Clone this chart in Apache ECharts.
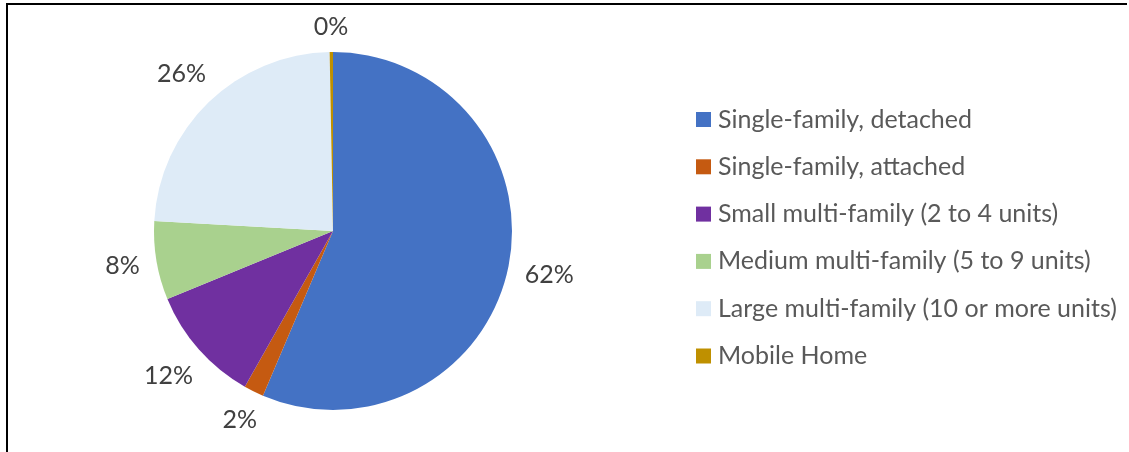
<!DOCTYPE html>
<html>
<head>
<meta charset="utf-8">
<script src="https://cdn.jsdelivr.net/npm/echarts@6/dist/echarts.min.js"></script>
<style>
  html, body { margin: 0; padding: 0; background: #fff; }
  #chart { width: 1129px; height: 452px; }
  /* cropped frame of the original figure */
  .frame {
    position: absolute;
    left: 6px;
    top: 3px;
    width: 1119px;
    height: 460px;
    border-top: 2px solid #000;
    border-left: 2px solid #000;
    pointer-events: none;
  }
</style>
</head>
<body>
<div id="chart"></div>
<div class="frame"></div>
<script>
// housing stock by building type
const categories = [
  'Single-family, detached',
  'Single-family, attached',
  'Small multi-family (2 to 4 units)',
  'Medium multi-family (5 to 9 units)',
  'Large multi-family (10 or more units)',
  'Mobile Home'
]
// slice sizes as drawn
const values = [56.4, 1.8, 10.6, 7.1, 23.8, 0.3]
// data labels as printed on the chart
const labels = ['62%', '2%', '12%', '8%', '26%', '0%']
const colors = ['#4472C4', '#C55A11', '#7030A0', '#A9D18E', '#DEEBF7', '#BF9000']

const pieCenter = [333, 231]
const pieRadius = 179
const labelGap = 16

const total = values.reduce((a, b) => a + b, 0)

// excel style "outside end": label box sits a fixed gap beyond the rim,
// along the slice's middle angle
function outsideEnd (params) {
  const i = params.dataIndex
  let before = 0
  for (let k = 0; k < i; k++) before += values[k]
  const theta = (before + values[i] / 2) / total * Math.PI * 2
  const ux = Math.sin(theta)
  const uy = -Math.cos(theta)
  const hw = params.labelRect.width / 2
  const hh = params.labelRect.height * 0.35
  const dist = pieRadius + labelGap + hw * Math.abs(ux) + hh * Math.abs(uy)
  return {
    x: pieCenter[0] + ux * dist,
    y: pieCenter[1] + uy * dist,
    align: 'center',
    verticalAlign: 'middle'
  }
}

const chart = echarts.init(document.getElementById('chart'), null, { renderer: 'canvas' })

const option = {
  color: colors,
  animation: false,
  legend: {
    orient: 'vertical',
    left: 696,
    top: 107,
    padding: 0,
    itemWidth: 15,
    itemHeight: 15,
    itemGap: 22.3,
    icon: 'rect',
    textStyle: {
      fontFamily: 'Lato',
      fontSize: 25,
      color: '#595959',
      padding: [0, 0, 0, 2]
    },
    data: categories
  },
  series: [
    {
      type: 'pie',
      center: pieCenter,
      radius: pieRadius,
      startAngle: 90,
      clockwise: true,
      avoidLabelOverlap: false,
      itemStyle: { borderWidth: 0 },
      label: {
        show: true,
        position: 'outside',
        fontFamily: 'Lato',
        fontSize: 25,
        color: '#404040',
        formatter: p => labels[p.dataIndex]
      },
      labelLine: { show: false },
      labelLayout: outsideEnd,
      emphasis: { disabled: true },
      data: categories.map((name, i) => ({ name, value: values[i] }))
    }
  ]
}

chart.setOption(option)
</script>
</body>
</html>
